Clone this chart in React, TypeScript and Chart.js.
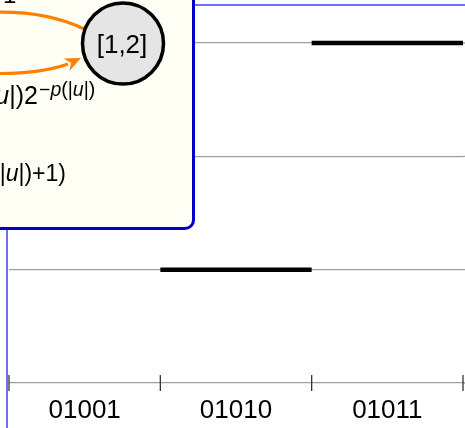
import React, { useEffect, useRef } from 'react';
import { Chart, registerables } from 'chart.js';

Chart.register(...registerables);

// ---- data ----
const categories = ['01001', '01010', '01011'];
const segmentLevels: (number | null)[] = [null, 1, 3];
const yTicks = [0, 1, 2, 3];
const nodeLabel = '[1,2]';

const FONT = '"Liberation Sans", Arial, sans-serif';

export default function App() {
  const ref = useRef<HTMLCanvasElement>(null);

  useEffect(() => {
    const datasets: any[] = [];
    segmentLevels.forEach((lvl, i) => {
      if (lvl === null) return;
      datasets.push({
        type: 'line',
        xAxisID: 'xl',
        yAxisID: 'y',
        data: [
          { x: i, y: lvl },
          { x: i + 1, y: lvl },
        ],
        borderColor: '#000',
        borderWidth: 4.5,
        borderCapStyle: 'butt',
        pointRadius: 0,
        clip: false,
      });
    });

    const axisDecor = {
      id: 'axisDecor',
      beforeDatasetsDraw(chart: any) {
        // extend horizontal grid lines to the right edge of the canvas
        const y = chart.scales.y;
        const ctx = chart.ctx;
        ctx.save();
        ctx.strokeStyle = '#9e9e9e';
        ctx.lineWidth = 1.3;
        yTicks.forEach((v) => {
          const py = y.getPixelForValue(v);
          ctx.beginPath();
          ctx.moveTo(chart.chartArea.right, py);
          ctx.lineTo(chart.width, py);
          ctx.stroke();
        });
        ctx.restore();
      },
      afterDraw(chart: any) {
        const xl = chart.scales.xl;
        const y = chart.scales.y;
        const y0 = y.getPixelForValue(0);
        const ctx = chart.ctx;
        ctx.save();
        ctx.strokeStyle = '#333';
        ctx.lineWidth = 1.3;
        for (let i = 0; i <= categories.length; i++) {
          const px = xl.getPixelForValue(i);
          ctx.beginPath();
          ctx.moveTo(px, y0 - 8);
          ctx.lineTo(px, y0 + 8);
          ctx.stroke();
        }
        ctx.restore();
      },
    };

    const chart = new Chart(ref.current as HTMLCanvasElement, {
      type: 'line',
      data: { labels: categories, datasets },
      options: {
        animation: false,
        responsive: false,
        maintainAspectRatio: false,
        layout: { padding: { left: 9, right: 2, top: 43, bottom: 0 } },
        plugins: { legend: { display: false }, tooltip: { enabled: false } },
        scales: {
          x: {
            type: 'category',
            labels: categories,
            offset: true,
            grid: { offset: true, drawOnChartArea: false, drawTicks: false },
            border: { display: false },
            ticks: {
              color: '#000',
              padding: 11.9,
              maxRotation: 0,
              autoSkip: false,
              font: { family: FONT, size: 26 },
            },
          },
          xl: {
            type: 'linear',
            min: 0,
            max: categories.length,
            display: false,
          },
          y: {
            type: 'linear',
            min: yTicks[0],
            max: yTicks[yTicks.length - 1],
            afterBuildTicks: (axis: any) => {
              axis.ticks = yTicks.map((v) => ({ value: v }));
            },
            ticks: { display: false },
            grid: { color: '#9e9e9e', lineWidth: 1.3, drawTicks: false },
            border: { display: false },
          },
        },
      } as any,
      plugins: [axisDecor],
    } as any);

    return () => chart.destroy();
  }, []);

  return (
    <div
      style={{
        position: 'absolute',
        left: 0,
        top: 0,
        width: 465,
        height: 428,
        overflow: 'hidden',
        background: '#fff',
        fontFamily: FONT,
      }}
    >
      <div
        style={{
          position: 'absolute',
          left: 6,
          top: 4,
          width: 600,
          height: 600,
          border: '2px solid #6e6eff',
          boxSizing: 'border-box',
        }}
      />
      <canvas
        ref={ref}
        width={465}
        height={438}
        style={{ position: 'absolute', left: 0, top: 0, width: 465, height: 438 }}
      />
      <div
        style={{
          position: 'absolute',
          left: -20,
          top: -20,
          width: 215,
          height: 250,
          border: '3.5px solid #0000cc',
          borderRadius: 10,
          background: '#fffff5',
          boxSizing: 'border-box',
        }}
      />
      <svg
        width={465}
        height={428}
        style={{ position: 'absolute', left: 0, top: 0, overflow: 'visible' }}
      >
        <path
          d="M -20 13 C 20 10, 55 15, 84 29"
          fill="none"
          stroke="#ff8000"
          strokeWidth={3.2}
        />
        <path
          d="M -20 73 C 20 75, 48 71, 68 64"
          fill="none"
          stroke="#ff8000"
          strokeWidth={3.2}
        />
        <polygon points="81,58 69.5,71.1 71,62.7 63.5,58.5" fill="#ff8000" />
        <circle cx={123} cy={43.5} r={40.5} fill="#e5e5e5" stroke="#000" strokeWidth={3.5} />
        <text
          x={122}
          y={53}
          textAnchor="middle"
          fontFamily={FONT}
          fontSize={26}
          fill="#000"
        >
          {nodeLabel}
        </text>
        <text x={3} y={2.5} fontFamily={FONT} fontSize={24} fill="#000">
          1
        </text>
        <text x={38} y={104} textAnchor="end" fontFamily={FONT} fontSize={25} fill="#000">
          <tspan fontStyle="italic">u</tspan>|)2
        </text>
        <text x={39} y={96} fontFamily={FONT} fontSize={19.5} fill="#000">
          −<tspan fontStyle="italic">p</tspan>(|<tspan fontStyle="italic">u</tspan>|)
        </text>
        <text x={66} y={181} textAnchor="end" fontFamily={FONT} fontSize={23} fill="#000">
          |<tspan fontStyle="italic">u</tspan>|)+1)
        </text>
      </svg>
    </div>
  );
}
